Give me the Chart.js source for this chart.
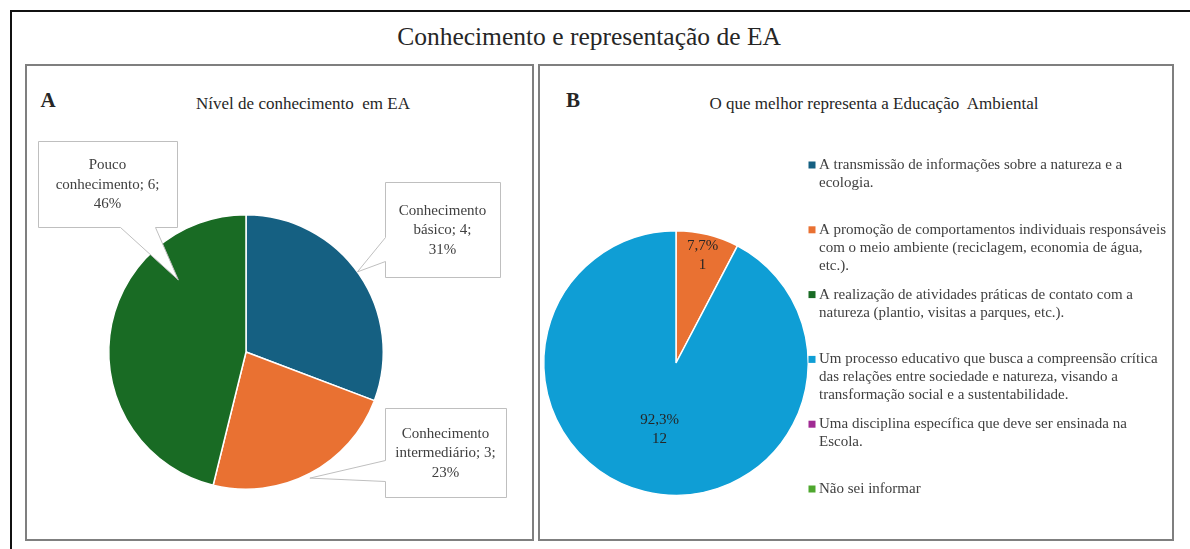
<!DOCTYPE html>
<html>
<head>
<meta charset="utf-8">
<script src="https://cdn.jsdelivr.net/npm/chart.js@4"></script>
<style>
  body { margin: 0; width: 1190px; height: 549px; background: #fff; overflow: hidden; position: relative; font-family: "Liberation Serif", "Times New Roman", serif; }
  .abs { position: absolute; }
  .txt { position: absolute; transform: translate(-50%, -50%); white-space: pre; color: #262626; }
  #outer { left: 10px; top: 10px; width: 1200px; height: 600px; border-left: 2.5px solid #111; border-top: 2.5px solid #111; }
  .panel { box-sizing: border-box; border: 2px solid #7f7f7f; top: 64px; height: 477px; }
  #panelA { left: 25px; width: 509px; }
  #panelB { left: 538px; width: 636px; }
  #wrapA { left: 27px; top: 66px; width: 505px; height: 473px; }
  #wrapB { left: 540px; top: 66px; width: 632px; height: 473px; }
</style>
</head>
<body>
<div id="outer" class="abs"></div>
<div id="panelA" class="abs panel"></div>
<div id="panelB" class="abs panel"></div>

<div id="tituloGeral" class="txt" style="left:589px; top:37px; font-size:25.5px;"></div>
<div id="letraA" class="txt" style="left:48px; top:100px; font-size:21px; font-weight:bold;">A</div>
<div id="tituloA" class="txt" style="left:303px; top:104px; font-size:17px;"></div>
<div id="letraB" class="txt" style="left:573px; top:100px; font-size:21px; font-weight:bold;">B</div>
<div id="tituloB" class="txt" style="left:874px; top:104px; font-size:17px;"></div>

<div id="wrapA" class="abs"><canvas id="chartA"></canvas></div>
<div id="wrapB" class="abs"><canvas id="chartB"></canvas></div>

<script>
/* ==============================
   DADOS
============================== */
var tituloGeral = "Conhecimento e representação de EA";
var tituloA = "Nível de conhecimento  em EA";
var tituloB = "O que melhor representa a Educação  Ambiental";

// grafico A
var nivelLabels = ["Conhecimento\nbásico", "Conhecimento\nintermediário", "Pouco\nconhecimento"];
var nivelValues = [4, 3, 6];
var nivelColors = ["#156082", "#E97132", "#196B24"];

// grafico B
var eaLabels = [
    "A transmissão de informações sobre a natureza e a\necologia.",
    "A promoção de comportamentos individuais responsáveis\ncom o meio ambiente (reciclagem, economia de água,\netc.).",
    "A realização de atividades práticas de contato com a\nnatureza (plantio, visitas a parques, etc.).",
    "Um processo educativo que busca a compreensão crítica\ndas relações entre sociedade e natureza, visando a\ntransformação social e a sustentabilidade.",
    "Uma disciplina específica que deve ser ensinada na\nEscola.",
    "Não sei informar"
];
var eaValues = [0, 1, 0, 12, 0, 0];
var eaColors = ["#156082", "#E97132", "#196B24", "#0F9ED5", "#A02B93", "#4EA72E"];

var FONT = "\"Liberation Serif\", \"Times New Roman\", serif";

document.getElementById("tituloGeral").textContent = tituloGeral;
document.getElementById("tituloA").textContent = tituloA;
document.getElementById("tituloB").textContent = tituloB;

function soma(arr) {
    return arr.reduce(function (a, b) { return a + b; }, 0);
}

/* ==============================
   CALLOUTS (grafico A)
============================== */
// caixa em px do canvas, ponteiro saindo do lado "left" ou "bottom"
var calloutsA = [
    { x: 358, y: 116, w: 115, h: 95, side: "left", b1: 171, b2: 195, tipFrac: 0.49, tipR: 1.0 },
    { x: 358, y: 342, w: 121, h: 89, side: "left", b1: 394, b2: 415, tipFrac: 0.51, tipR: 1.03 },
    { x: 11, y: 75, w: 139, h: 86, side: "bottom", b1: 93, b2: 128, tipFrac: 0.74, tipR: 0.72 }
];

var calloutPlugin = {
    id: "callouts",
    afterDraw: function (chart) {
        var ctx = chart.ctx;
        var meta = chart.getDatasetMeta(0);
        var values = chart.data.datasets[0].data;
        var total = soma(values);
        meta.data.forEach(function (arc, i) {
            var c = calloutsA[i];
            var p = arc.getProps(["x", "y", "startAngle", "endAngle", "outerRadius"], true);
            var ang = p.startAngle + (p.endAngle - p.startAngle) * c.tipFrac;
            var tx = p.x + Math.cos(ang) * p.outerRadius * c.tipR;
            var ty = p.y + Math.sin(ang) * p.outerRadius * c.tipR;
            var x = c.x + 0.5, y = c.y + 0.5, w = c.w, h = c.h;

            ctx.save();
            ctx.beginPath();
            if (c.side === "left") {
                ctx.moveTo(x, y);
                ctx.lineTo(x + w, y);
                ctx.lineTo(x + w, y + h);
                ctx.lineTo(x, y + h);
                ctx.lineTo(x, c.b2 + 0.5);
                ctx.lineTo(tx, ty);
                ctx.lineTo(x, c.b1 + 0.5);
            } else {
                ctx.moveTo(x, y);
                ctx.lineTo(x + w, y);
                ctx.lineTo(x + w, y + h);
                ctx.lineTo(c.b2 + 0.5, y + h);
                ctx.lineTo(tx, ty);
                ctx.lineTo(c.b1 + 0.5, y + h);
                ctx.lineTo(x, y + h);
            }
            ctx.closePath();
            ctx.fillStyle = "#ffffff";
            ctx.fill();
            ctx.strokeStyle = "#bfbfbf";
            ctx.lineWidth = 1;
            ctx.stroke();

            // texto: rotulo; valor; percentual
            var lines = chart.data.labels[i].split("\n");
            lines[lines.length - 1] += "; " + values[i] + ";";
            lines.push(Math.round(values[i] / total * 100) + "%");
            ctx.fillStyle = "#404040";
            ctx.font = "15px " + FONT;
            ctx.textAlign = "center";
            ctx.textBaseline = "middle";
            var lh = 19.5;
            var cy = c.y + h / 2 - (lines.length - 1) * lh / 2 + 1;
            lines.forEach(function (ln, k) {
                ctx.fillText(ln, c.x + w / 2, cy + k * lh);
            });
            ctx.restore();
        });
    }
};

/* ==============================
   ROTULOS + LEGENDA (grafico B)
============================== */
var rotuloRaioB = [0.6, 0.84, 0.6, 0.52, 0.6, 0.6];
var legendaB = { markX: 272, textX: 279, startY: 99, step: 64.8, lineH: 18, mark: 7 };

var pieBPlugin = {
    id: "pieB",
    afterDraw: function (chart) {
        var ctx = chart.ctx;
        var meta = chart.getDatasetMeta(0);
        var values = chart.data.datasets[0].data;
        var total = soma(values);
        ctx.save();
        ctx.font = "15px " + FONT;
        ctx.textAlign = "center";
        ctx.textBaseline = "middle";
        ctx.fillStyle = "#262626";
        meta.data.forEach(function (arc, i) {
            if (!values[i]) return;
            var p = arc.getProps(["x", "y", "startAngle", "endAngle", "outerRadius"], true);
            var mid = (p.startAngle + p.endAngle) / 2;
            var r = p.outerRadius * rotuloRaioB[i];
            var lx = p.x + Math.cos(mid) * r;
            var ly = p.y + Math.sin(mid) * r;
            var pct = (values[i] / total * 100).toFixed(1).replace(".", ",") + "%";
            ctx.fillText(pct, lx, ly - 9.5);
            ctx.fillText(String(values[i]), lx, ly + 9.5);
        });

        // legenda
        var L = legendaB;
        ctx.textAlign = "left";
        chart.data.labels.forEach(function (label, i) {
            var y0 = L.startY + i * L.step;
            ctx.fillStyle = eaColors[i];
            ctx.fillRect(L.markX - L.mark / 2, y0 - L.mark / 2, L.mark, L.mark);
            ctx.fillStyle = "#404040";
            label.split("\n").forEach(function (ln, k) {
                ctx.fillText(ln, L.textX, y0 + k * L.lineH);
            });
        });
        ctx.restore();
    }
};

/* ==============================
   CHARTS
============================== */
var baseOptions = {
    responsive: true,
    maintainAspectRatio: false,
    animation: false,
    events: [],
    plugins: {
        legend: { display: false },
        tooltip: { enabled: false }
    }
};

var chartA = new Chart(document.getElementById("chartA"), {
    type: "pie",
    data: {
        labels: nivelLabels,
        datasets: [{
            data: nivelValues,
            backgroundColor: nivelColors,
            borderColor: "#ffffff",
            borderWidth: 1.5
        }]
    },
    options: Object.assign({}, baseOptions, {
        layout: { padding: { left: 81, right: 148, top: 148, bottom: 49 } }
    }),
    plugins: [calloutPlugin]
});

var chartB = new Chart(document.getElementById("chartB"), {
    type: "pie",
    data: {
        labels: eaLabels,
        datasets: [{
            data: eaValues,
            backgroundColor: eaColors,
            borderColor: "#ffffff",
            borderWidth: 1.5
        }]
    },
    options: Object.assign({}, baseOptions, {
        layout: { padding: { left: 3, right: 363, top: 164, bottom: 43 } }
    }),
    plugins: [pieBPlugin]
});
</script>
</body>
</html>
